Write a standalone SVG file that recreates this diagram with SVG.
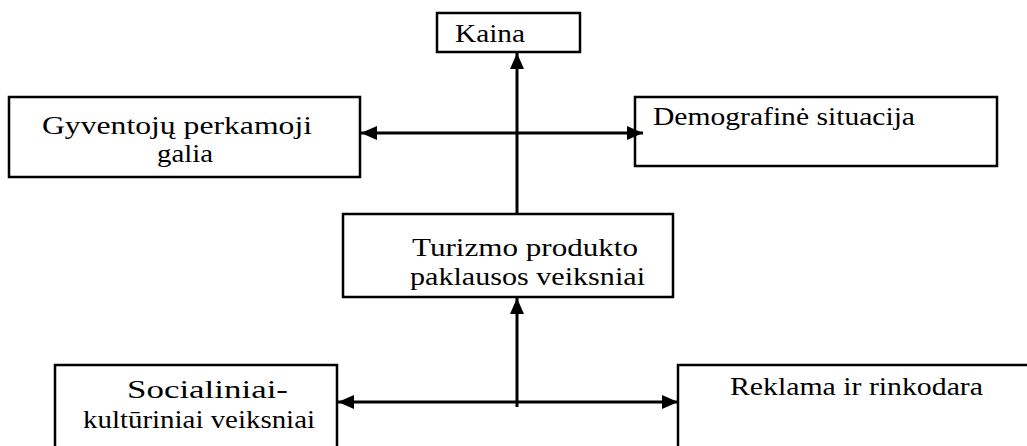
<svg xmlns="http://www.w3.org/2000/svg" width="1027" height="446" viewBox="0 0 1027 446">
<style>
.box{fill:#fff;stroke:#000;stroke-width:2.5}
.t{font-family:"Liberation Serif","Times New Roman",serif;font-size:25px;fill:#000}
.ln{stroke:#000;stroke-width:3;fill:none}
</style>
<defs>
<marker id="ah" viewBox="0 0 16 14" refX="16" refY="7" markerWidth="16" markerHeight="14" markerUnits="userSpaceOnUse" orient="auto-start-reverse">
<path d="M0,0 L16,7 L0,14 Z" fill="#000"/>
</marker>
</defs>
<rect width="1027" height="446" fill="#fff"/>
<g id="kaina">
<rect class="box" x="437" y="13" width="143" height="39"/>
<text class="t" x="455" y="42" textLength="70" lengthAdjust="spacingAndGlyphs">Kaina</text>
</g>
<g id="gyventoju">
<rect class="box" x="9" y="97" width="351" height="80"/>
<text class="t" x="42" y="134" textLength="270" lengthAdjust="spacingAndGlyphs">Gyventojų perkamoji</text>
<text class="t" x="157" y="162" textLength="56" lengthAdjust="spacingAndGlyphs">galia</text>
</g>
<g id="demografine">
<rect class="box" x="635" y="97" width="362" height="69"/>
<text class="t" x="653" y="125" textLength="262" lengthAdjust="spacingAndGlyphs">Demografinė situacija</text>
</g>
<g id="turizmo">
<rect class="box" x="343" y="214" width="330" height="83"/>
<text class="t" x="412" y="256" textLength="226" lengthAdjust="spacingAndGlyphs">Turizmo produkto</text>
<text class="t" x="410" y="285" textLength="235" lengthAdjust="spacingAndGlyphs">paklausos veiksniai</text>
</g>
<g id="socialiniai">
<rect class="box" x="55" y="365" width="282" height="100"/>
<text class="t" x="127" y="398" textLength="161" lengthAdjust="spacingAndGlyphs">Socialiniai-</text>
<text class="t" x="83" y="428" textLength="232" lengthAdjust="spacingAndGlyphs">kultūriniai veiksniai</text>
</g>
<g id="reklama">
<rect class="box" x="678" y="365" width="360" height="100"/>
<text class="t" x="730" y="395" textLength="253" lengthAdjust="spacingAndGlyphs">Reklama ir rinkodara</text>
</g>
<g id="connectors">
<line class="ln" x1="517" y1="214" x2="517" y2="53" marker-end="url(#ah)"/>
<line class="ln" x1="361" y1="133" x2="643" y2="133" marker-start="url(#ah)" marker-end="url(#ah)"/>
<line class="ln" x1="517" y1="407" x2="517" y2="298" marker-end="url(#ah)"/>
<line class="ln" x1="338" y1="402" x2="678" y2="402" marker-start="url(#ah)" marker-end="url(#ah)"/>
</g>
</svg>
